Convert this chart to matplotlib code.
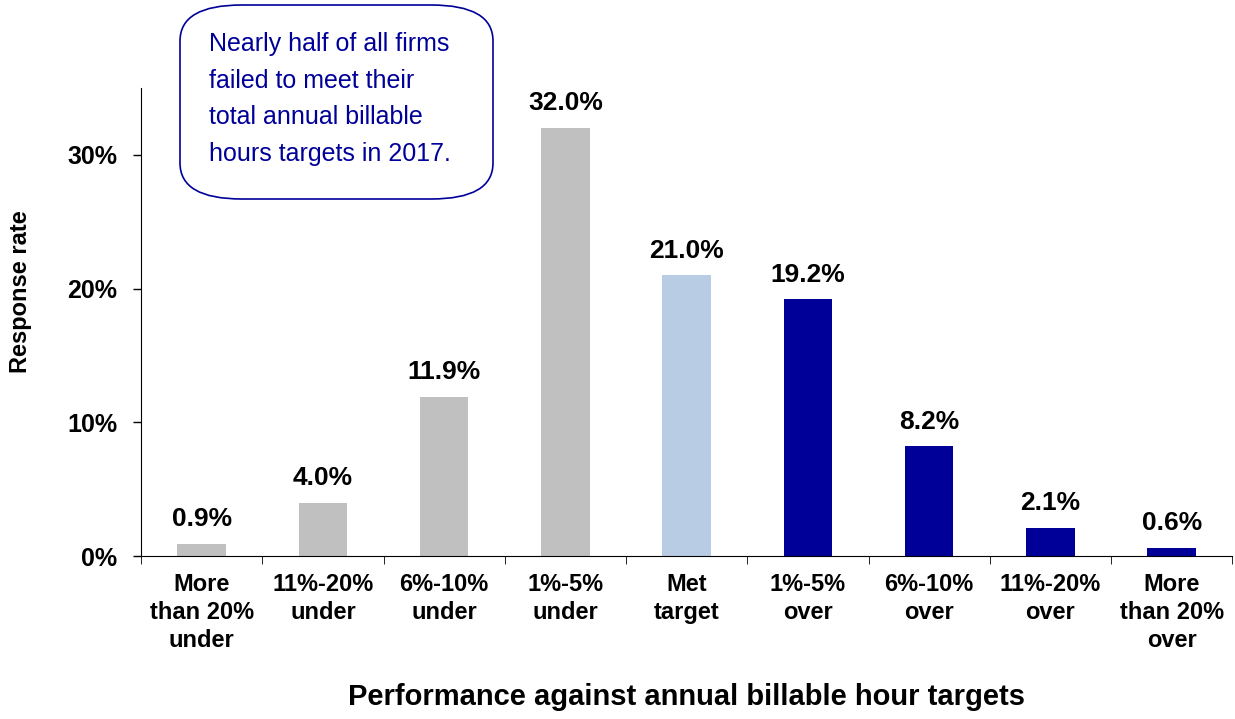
import numpy as np
import matplotlib
matplotlib.use("Agg")
import matplotlib.pyplot as plt
from matplotlib.patches import FancyBboxPatch

plt.rcParams['font.family'] = ['Liberation Sans', 'DejaVu Sans']

categories = ["More\nthan 20%\nunder", "11%-20%\nunder", "6%-10%\nunder", "1%-5%\nunder",
              "Met\ntarget", "1%-5%\nover", "6%-10%\nover", "11%-20%\nover", "More\nthan 20%\nover"]
values = [0.9, 4.0, 11.9, 32.0, 21.0, 19.2, 8.2, 2.1, 0.6]
colors = ["#C0C0C0"] * 4 + ["#B8CCE4"] + ["#000099"] * 4
yticks = [0, 10, 20, 30]
note = "Nearly half of all firms\nfailed to meet their\ntotal annual billable\nhours targets in 2017."

fig = plt.figure(figsize=(12.35, 7.19), dpi=100)
ax = fig.add_axes([0.1142, 0.2267, 0.8836, 0.6509])

x = np.arange(len(values))
ax.bar(x, values, width=0.4, color=colors)
for xi, v in zip(x, values):
    ax.text(xi, v + 0.95, f"{v:.1f}%", ha='center', va='bottom', fontsize=19, fontweight='bold')

ax.set_xlim(-0.5, len(values) - 0.5)
ax.set_ylim(0, 35)
ax.set_yticks(yticks)
ax.set_yticklabels([f"{t}%" for t in yticks], fontsize=18, fontweight='bold')
ax.set_xticks(x)
ax.set_xticklabels(categories, fontsize=17, fontweight='bold', linespacing=1.3)
ax.tick_params(axis='x', length=0, pad=12)
ax.set_xticks(np.arange(-0.5, len(values)), minor=True)
ax.tick_params(axis='x', which='minor', length=6)
ax.tick_params(axis='y', length=6, width=1, pad=11)

for s in ['top', 'right']:
    ax.spines[s].set_visible(False)

fig.text(21 / 1235, 1 - 292 / 719, "Response rate", rotation=90, ha='center', va='center',
         fontsize=17, fontweight='bold')
ax.set_xlabel("Performance against annual billable hour targets", fontsize=21,
              fontweight='bold', labelpad=22)

box = FancyBboxPatch((180 / 1235, 1 - 199 / 719), 313 / 1235, 194 / 719,
                     boxstyle="round,pad=0,rounding_size=0.05", transform=fig.transFigure,
                     facecolor='white', edgecolor='#000099', linewidth=1.2)
fig.patches.append(box)
fig.text(209 / 1235, 1 - 99 / 719, note, ha='left', va='center', fontsize=18,
         color='#000099', linespacing=1.66)

fig.savefig("out.png", dpi=100)
